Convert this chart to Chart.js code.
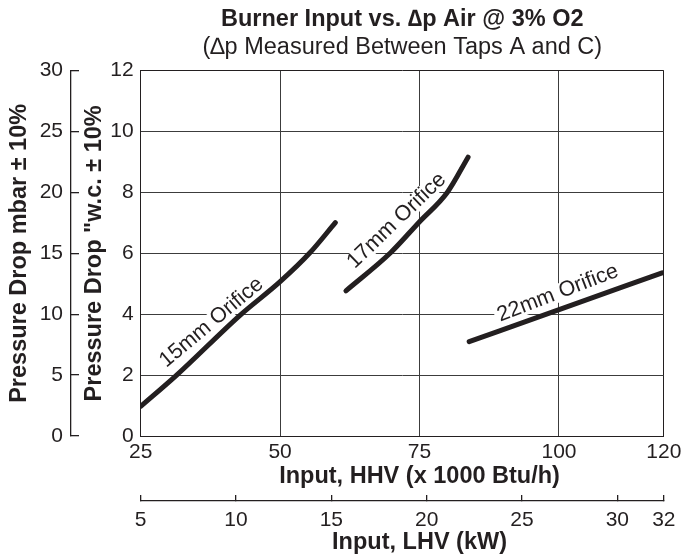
<!DOCTYPE html>
<html>
<head>
<meta charset="utf-8">
<script src="https://cdn.jsdelivr.net/npm/chart.js@4.4.1/dist/chart.umd.min.js"></script>
<style>
  html, body { margin: 0; padding: 0; background: #ffffff; }
  #wrap { width: 688px; height: 557px; }
</style>
</head>
<body>
<div id="wrap"><canvas id="c" width="688" height="557"></canvas></div>
<script>
// ---------- text ----------
const titleText = 'Burner Input vs. \u2206p Air @ 3% O2';
const subtitleText = '(\u2206p Measured Between Taps A and C)';
const hhvTitle = 'Input, HHV (x 1000 Btu/h)';
const lhvTitle = 'Input, LHV (kW)';
const wcTitle = 'Pressure Drop "w.c. \u00b1 10%';
const mbarTitle = 'Pressure Drop mbar \u00b1 10%';

// ---------- ticks ----------
// the right frame of the reference sits at ~118.8 on the 25/50/75/100 spacing and is labelled "120"
const hhvTickValues = [25, 50, 75, 100, 118.8];
const hhvTickLabels = ['25', '50', '75', '100', '120'];
// LHV axis: right end (~32.44 on the 5..30 spacing) is labelled "32"
const lhvTickValues = [5, 10, 15, 20, 25, 30, 32.44];
const lhvTickLabels = ['5', '10', '15', '20', '25', '30', '32'];
const wcTickValues = [0, 2, 4, 6, 8, 10, 12];
const mbarTickValues = [0, 5, 10, 15, 20, 25, 30];

// ---------- series ----------
const seriesNames = ['15mm Orifice', '17mm Orifice', '22mm Orifice'];
const orifice15X = [25.0, 31.4, 42.9, 50.0, 55.3, 59.9];
const orifice15Y = [0.97, 1.99, 3.98, 5.07, 6.01, 7.01];
const orifice17X = [61.8, 69.8, 75.0, 80.0, 83.7];
const orifice17Y = [4.77, 6.02, 7.04, 8.01, 9.16];
const orifice22X = [83.9, 99.9, 118.5];
const orifice22Y = [3.10, 4.14, 5.36];

const ink = '#231f20';
const gridGray = '#3c3c3c';
const FONT = "'Liberation Sans', Arial, Helvetica, sans-serif";
const TITLE_SIZE = 23.5;
Chart.defaults.font.family = FONT;
Chart.defaults.color = ink;

function pts(xs, ys) { return xs.map((x, i) => ({ x: x, y: ys[i] })); }
function lineDs(name, xs, ys) {
  return {
    label: name, data: pts(xs, ys), xAxisID: 'x', yAxisID: 'y',
    borderColor: ink, borderWidth: 5, borderCapStyle: 'round', borderJoinStyle: 'round',
    pointRadius: 0, fill: false, tension: 0.4, cubicInterpolationMode: 'monotone'
  };
}

// labels written along the curves (white knock-out behind them, under the lines)
const curveLabels = {
  id: 'curveLabels',
  beforeDatasetsDraw(chart, args, opts) {
    const ctx = chart.ctx, sx = chart.scales.x, sy = chart.scales.y;
    ctx.save();
    ctx.font = opts.size + 'px ' + FONT;
    opts.items.forEach(it => {
      const px = sx.getPixelForValue(it.x), py = sy.getPixelForValue(it.y);
      ctx.save();
      ctx.translate(px, py);
      ctx.rotate(it.angle * Math.PI / 180);
      const w = ctx.measureText(it.text).width;
      const h = opts.size * 0.85;
      ctx.fillStyle = '#ffffff';
      ctx.fillRect(-w / 2 - 3, -h / 2, w + 6, h);
      ctx.fillStyle = ink;
      ctx.textAlign = 'center';
      ctx.textBaseline = 'middle';
      ctx.fillText(it.text, 0, 0);
      ctx.restore();
    });
    ctx.restore();
  }
};

// the two horizontal axis titles are centred under the 75 gridline in the reference
const bottomTitles = {
  id: 'bottomTitles',
  afterDraw(chart, args, opts) {
    const ctx = chart.ctx, sx = chart.scales.x, sx2 = chart.scales.x2;
    const cx = sx.getPixelForValue(opts.centerValue);
    ctx.save();
    ctx.font = 'bold ' + opts.size + 'px ' + FONT;
    ctx.fillStyle = ink;
    ctx.textAlign = 'center';
    ctx.textBaseline = 'middle';
    ctx.fillText(hhvTitle, cx, sx.bottom - opts.offsetHHV);
    ctx.fillText(lhvTitle, cx, sx2.bottom - opts.offsetLHV);
    ctx.restore();
  }
};

function frameColor(vals) {
  return c => (c.tick && (c.tick.value === vals[0] || c.tick.value === vals[vals.length - 1])) ? ink : gridGray;
}

new Chart(document.getElementById('c'), {
  type: 'line',
  data: {
    datasets: [
      lineDs(seriesNames[0], orifice15X, orifice15Y),
      lineDs(seriesNames[1], orifice17X, orifice17Y),
      lineDs(seriesNames[2], orifice22X, orifice22Y)
    ]
  },
  plugins: [curveLabels, bottomTitles],
  options: {
    responsive: false,
    animation: false,
    devicePixelRatio: 1,
    layout: { padding: { top: 0, right: 19.3, bottom: 0, left: 0 } },
    plugins: {
      legend: { display: false },
      tooltip: { enabled: false },
      title: {
        display: true, text: titleText, fullSize: false, color: ink,
        font: { size: TITLE_SIZE, weight: 'bold' }, padding: { top: 5.5, bottom: 0 }
      },
      subtitle: {
        display: true, text: subtitleText, fullSize: false, color: ink,
        font: { size: TITLE_SIZE, weight: 'normal' }, padding: { top: 0, bottom: 8.8 }
      },
      curveLabels: {
        size: 21.5,
        items: [
          { text: seriesNames[0], x: 37.7, y: 3.73, angle: -39.9 },
          { text: seriesNames[1], x: 70.9, y: 7.07, angle: -43.9 },
          { text: seriesNames[2], x: 99.8, y: 4.69, angle: -21.0 }
        ]
      },
      bottomTitles: { size: TITLE_SIZE, centerValue: 75, offsetHHV: 24.5, offsetLHV: 14.5 }
    },
    scales: {
      x: {
        type: 'linear', position: 'bottom', weight: 0,
        min: hhvTickValues[0], max: hhvTickValues[hhvTickValues.length - 1],
        afterBuildTicks: s => { s.ticks = hhvTickValues.map(v => ({ value: v })); },
        afterFit: s => { s.height = 65; },
        ticks: {
          autoSkip: false, maxRotation: 0, minRotation: 0, color: ink,
          font: { size: 21 }, padding: 4,
          callback: (v, i) => hhvTickLabels[i]
        },
        grid: { color: frameColor(hhvTickValues), lineWidth: 1, drawTicks: false },
        border: { color: ink, width: 1 },
        title: { display: false, text: hhvTitle }
      },
      x2: {
        type: 'linear', position: 'bottom', weight: 1,
        min: lhvTickValues[0], max: lhvTickValues[lhvTickValues.length - 1],
        afterBuildTicks: s => { s.ticks = lhvTickValues.map(v => ({ value: v })); },
        afterFit: s => { s.height = 56; },
        ticks: {
          autoSkip: false, maxRotation: 0, minRotation: 0, color: ink,
          font: { size: 21 }, padding: 12.5,
          callback: (v, i) => lhvTickLabels[i]
        },
        grid: { drawOnChartArea: false, drawTicks: true, tickLength: -6, color: ink, lineWidth: 1.3 },
        border: { display: true, color: ink, width: 1.3 },
        title: { display: false, text: lhvTitle }
      },
      y: {
        type: 'linear', position: 'left', weight: 0,
        min: wcTickValues[0], max: wcTickValues[wcTickValues.length - 1],
        afterBuildTicks: s => { s.ticks = wcTickValues.map(v => ({ value: v })); },
        afterFit: s => { s.width = 69.7; },
        ticks: { color: ink, font: { size: 21 }, padding: 7 },
        grid: { color: frameColor(wcTickValues), lineWidth: 1, drawTicks: false },
        border: { color: ink, width: 1 },
        title: {
          display: true, text: wcTitle, color: ink,
          font: { size: TITLE_SIZE, weight: 'bold' }, padding: { top: 9.9, bottom: 0 }
        }
      },
      y2: {
        type: 'linear', position: 'left', weight: 1,
        min: mbarTickValues[0], max: mbarTickValues[mbarTickValues.length - 1],
        afterBuildTicks: s => { s.ticks = mbarTickValues.map(v => ({ value: v })); },
        afterFit: s => { s.width = 71; },
        ticks: { color: ink, font: { size: 21 }, padding: 16 },
        grid: { drawOnChartArea: false, drawTicks: true, tickLength: -8, color: ink, lineWidth: 1.3 },
        border: { display: true, color: ink, width: 1.3 },
        title: {
          display: true, text: mbarTitle, color: ink,
          font: { size: TITLE_SIZE, weight: 'bold' }, padding: { top: 5.9, bottom: 0 }
        }
      }
    }
  }
});
</script>
</body>
</html>
